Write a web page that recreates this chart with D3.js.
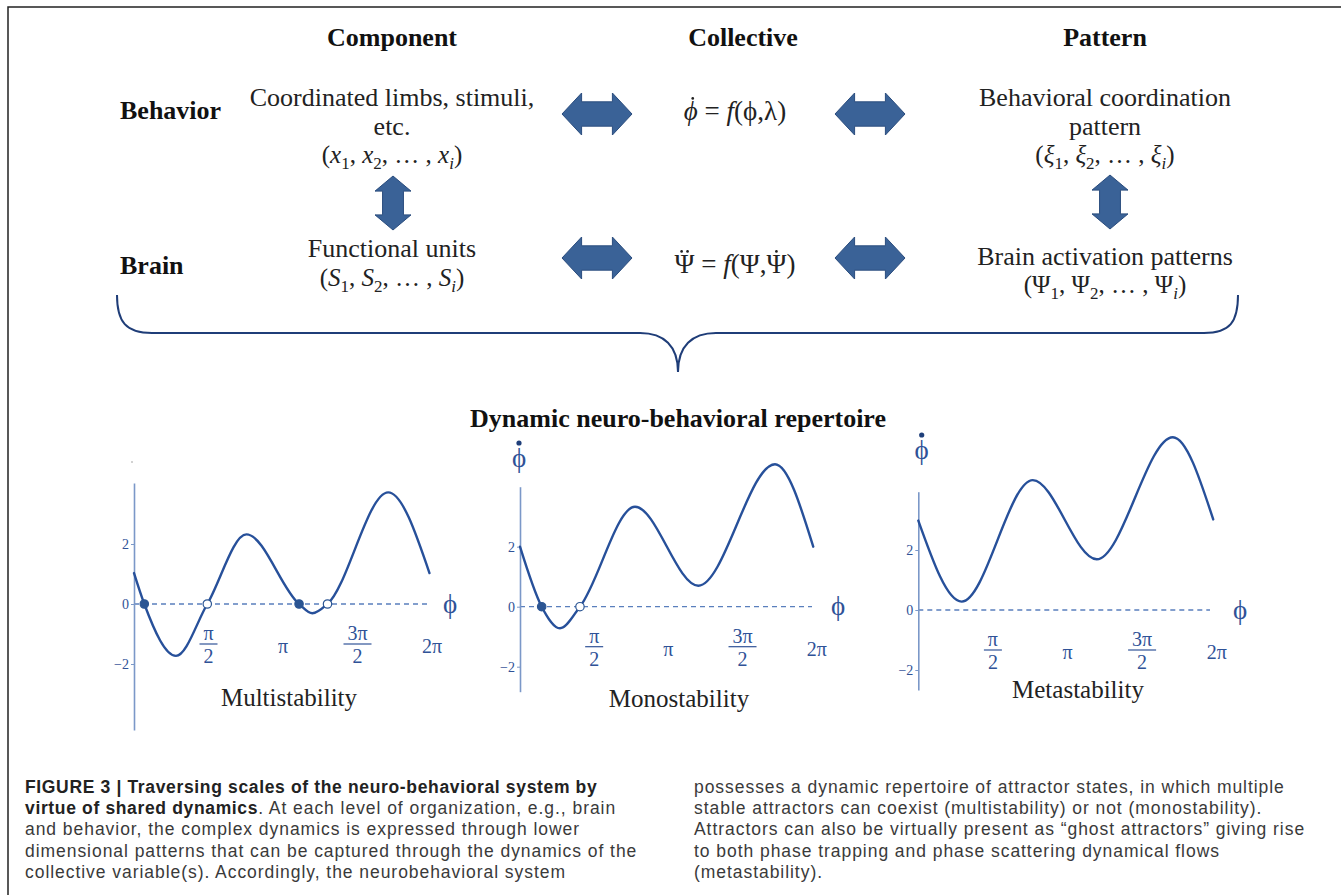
<!DOCTYPE html>
<html lang="en">

<head>
    <meta charset="UTF-8">
    <title>Figure 3</title>
    <style>
        body {
            margin: 0;
            padding: 0;
            background: #fff;
        }

        svg {
            display: block;
        }

        .serif {
            font-family: "Liberation Serif", "Times New Roman", serif;
        }

        .caption {
            font-family: "Liberation Sans", Arial, sans-serif;
            font-size: 17.5px;
            letter-spacing: 0.95px;
            fill: #3a3a3a;
        }
    </style>
</head>

<body>

    <script src="https://d3js.org/d3.v7.min.js"></script>
    <script>
        const width = 1341
        const height = 895

        function setAttr(sel, attrs) {
            Object.keys(attrs).forEach(k => sel.attr(k, attrs[k]))
        }

        // ---- data ----
        const headers = ['Component', 'Collective', 'Pattern']
        const rowLabels = ['Behavior', 'Brain']
        const componentLines = ['Coordinated limbs, stimuli,', 'etc.']
        const componentBrain = ['Functional units']
        const patternLines = ['Behavioral coordination', 'pattern']
        const patternBrain = ['Brain activation patterns']
        const repertoireTitle = 'Dynamic neuro-behavioral repertoire'

        // [phi (rad), phi-dot]: ends, extrema, zero crossings
        const multiPoints = [[0, 1.03], [0.217, 0], [0.885, -1.73], [1.545, 0], [2.37, 2.32], [3.48, 0], [3.76, -0.31],
            [4.08, 0], [5.36, 3.72], [6.23, 1.03]]
        const monoPoints = [[0, 2.0], [0.459, 0], [0.847, -0.72], [1.27, 0], [2.435, 3.33], [3.776, 0.7], [5.40, 4.75], [6.21, 2.0]]
        const metaPoints = [[0, 2.98], [0.913, 0.28], [2.41, 4.33], [3.757, 1.69], [5.36, 5.76], [6.21, 3.02]]

        // fixed points: [phi, stable]
        const multiFixed = [[0.217, true], [1.545, false], [3.48, true], [4.08, false]]
        const monoFixed = [[0.459, true], [1.27, false]]
        const metaFixed = []

        const yTicks = [-2, 0, 2]
        const xTicks = [
            { v: Math.PI / 2, num: 'π', den: '2' },
            { v: Math.PI, label: 'π' },
            { v: 3 * Math.PI / 2, num: '3π', den: '2' },
            { v: 2 * Math.PI, label: '2π' }
        ]

        const captionLeft = [
            [['FIGURE 3 | Traversing scales of the neuro-behavioral system by', true]],
            [['virtue of shared dynamics', true], ['. At each level of organization, e.g., brain', false]],
            [['and behavior, the complex dynamics is expressed through lower', false]],
            [['dimensional patterns that can be captured through the dynamics of the', false]],
            [['collective variable(s). Accordingly, the neurobehavioral system', false]]
        ]
        const captionRight = [
            'possesses a dynamic repertoire of attractor states, in which multiple',
            'stable attractors can coexist (multistability) or not (monostability).',
            'Attractors can also be virtually present as \u201cghost attractors\u201d giving rise',
            'to both phase trapping and phase scattering dynamical flows',
            '(metastability).'
        ]

        const curveColor = '#27509a'
        const axisColor = '#7b98c8'
        const tickColor = '#2f5297'
        const arrowFill = '#3a6297'

        const svg = d3.select('body')
            .append('svg')
            .call(setAttr, { width, height })

        // frame
        svg.append('path')
            .call(setAttr, { d: `M8,${height} L8,7 L${width},7`, fill: 'none', stroke: '#222', 'stroke-width': 1.5 })

        // headers
        const headerX = [392, 743, 1105]
        svg.selectAll('.header')
            .data(headers)
            .join('text')
            .attr('class', 'header serif')
            .call(setAttr, { x: (d, i) => headerX[i], y: 46, 'text-anchor': 'middle', 'font-size': 26, 'font-weight': 'bold', fill: '#111' })
            .text(d => d)

        svg.selectAll('.rowlabel')
            .data(rowLabels)
            .join('text')
            .attr('class', 'rowlabel serif')
            .call(setAttr, { x: 120, y: (d, i) => [119, 274][i], 'font-size': 26, 'font-weight': 'bold', fill: '#111' })
            .text(d => d)

        // plain multi-line text
        function lines(arr, cx, y0, dy) {
            svg.append('g')
                .selectAll('text')
                .data(arr)
                .join('text')
                .attr('class', 'serif')
                .call(setAttr, { x: cx, y: (d, i) => y0 + i * dy, 'text-anchor': 'middle', 'font-size': 26, fill: '#222' })
                .text(d => d)
        }

        lines(componentLines, 392, 106, 29)
        lines(componentBrain, 392, 257, 29)
        lines(patternLines, 1105, 106, 29)
        lines(patternBrain, 1105, 265, 29)

        // math text: segments [text, style]
        // style letters: i italic, s subscript, d one dot above, D two dots above
        function mathText(cx, y, segs, size) {
            const t = svg.append('text')
                .attr('class', 'serif')
                .call(setAttr, { x: cx, y, 'text-anchor': 'middle', 'font-size': size, fill: '#222' })
            let shifted = false
            const dotted = []
            segs.forEach(([s, st]) => {
                const sub = st.includes('s')
                const ts = t.append('tspan').text(s)
                if (st.includes('i')) ts.attr('font-style', 'italic')
                if (sub && !shifted) { ts.attr('dy', size * 0.22); shifted = true }
                if (!sub && shifted) { ts.attr('dy', -size * 0.22); shifted = false }
                if (sub) ts.attr('font-size', size * 0.68)
                if (st.includes('d') || st.includes('D')) dotted.push([ts, st])
            })
            // accent dots placed over the glyph
            dotted.forEach(([ts, st]) => {
                const box = ts.node().getExtentOfChar(0)
                const cxg = box.x + box.width / 2 + (st.includes('i') ? size * 0.07 : 0)
                const cyg = y - size * 0.80
                const offs = st.includes('D') ? [-size * 0.11, size * 0.11] : [0]
                offs.forEach(o => {
                    svg.append('circle')
                        .call(setAttr, { cx: cxg + o, cy: cyg, r: size * 0.05, fill: '#222' })
                })
            })
            return t
        }

        function tuple(sym, symStyle) {
            return [['(', ''], [sym, symStyle], ['1', 's'], [', ', ''], [sym, symStyle], ['2', 's'], [', … , ', ''],
                [sym, symStyle], ['i', 'si'], [')', '']]
        }

        mathText(392, 163, tuple('x', 'i'), 25)
        mathText(392, 286, tuple('S', 'i'), 25)
        mathText(1105, 163, tuple('ξ', 'i'), 25)
        mathText(1105, 293, tuple('Ψ', ''), 25)

        mathText(735, 120, [['ϕ', 'id'], [' = ', ''], ['f', 'i'], ['(ϕ,λ)', '']], 27)
        mathText(735, 273, [['Ψ', 'D'], [' = ', ''], ['f', 'i'], ['(Ψ,', ''], ['Ψ', 'd'], [')', '']], 27)

        // block arrows
        function dblArrow(cx, cy, len, thick, vertical) {
            const hl = len * 0.28
            const sh = thick * 0.29
            const a = len / 2
            const b = thick / 2
            const pts = [[-a, 0], [-a + hl, -b], [-a + hl, -sh], [a - hl, -sh], [a - hl, -b], [a, 0],
                [a - hl, b], [a - hl, sh], [-a + hl, sh], [-a + hl, b]]
            svg.append('path')
                .call(setAttr, {
                    d: 'M' + pts.map(p => p.join(',')).join('L') + 'Z',
                    transform: `translate(${cx},${cy})` + (vertical ? ' rotate(90)' : ''),
                    fill: arrowFill,
                    stroke: '#2b4d7e',
                    'stroke-width': 1
                })
        }

        dblArrow(597, 114, 70, 42, false)
        dblArrow(597, 258, 70, 42, false)
        dblArrow(870, 114, 70, 42, false)
        dblArrow(870, 258, 70, 42, false)
        dblArrow(393, 203, 54, 36, true)
        dblArrow(1110, 202, 54, 36, true)

        // brace
        svg.append('path')
            .call(setAttr, {
                d: 'M117,295 C117,322 126,333 152,333 L640,333 C664,333 678,346 678,372 C678,346 692,333 716,333 L1204,333 C1230,333 1238,322 1238,295',
                fill: 'none',
                stroke: '#1f3d78',
                'stroke-width': 2
            })

        svg.append('text')
            .attr('class', 'serif')
            .call(setAttr, { x: 678, y: 427, 'text-anchor': 'middle', 'font-size': 26, 'font-weight': 'bold', fill: '#111' })
            .text(repertoireTitle)

        // ---- panels ----
        const panels = [
            { pts: multiPoints, fixed: multiFixed, x0: 134, x1: 432, yZero: 604, top: 483, bottom: 730, dashEnd: 428,
              phi: [450, 613], dotLabel: false, title: 'Multistability', tx: 289, ty: 706 },
            { pts: monoPoints, fixed: monoFixed, x0: 520, x1: 816.7, yZero: 606.7, top: 486.7, bottom: 691.7, dashEnd: 812,
              phi: [838, 615], dotLabel: [519, 467], title: 'Monostability', tx: 679, ty: 707 },
            { pts: metaPoints, fixed: metaFixed, x0: 918.3, x1: 1216.7, yZero: 610, top: 491.7, bottom: 690, dashEnd: 1210,
              phi: [1240, 619], dotLabel: [921.7, 459], title: 'Metastability', tx: 1078, ty: 698 }
        ]

        panels.forEach(p => {
            const g = svg.append('g')

            const x = d3.scaleLinear().domain([0, 2 * Math.PI]).range([p.x0, p.x1])
            const unit = d3.scaleLinear().domain([0, 2]).range([p.yZero, p.yZero - 60])
            const y = d3.scaleLinear()
                .domain([unit.invert(p.bottom), unit.invert(p.top)])
                .range([p.bottom, p.top])

            // zero line
            g.append('line')
                .call(setAttr, {
                    x1: x(0), x2: p.dashEnd, y1: y(0), y2: y(0),
                    stroke: '#5a7fbd', 'stroke-width': 1.3, 'stroke-dasharray': '5,4'
                })

            // y axis
            const yAxis = d3.axisLeft(y)
                .tickValues(yTicks)
                .tickSize(3)
                .tickSizeOuter(0)
                .tickPadding(2)
                .tickFormat(d => d < 0 ? '\u2212' + Math.abs(d) : d)

            const ax = g.append('g')
                .attr('transform', `translate(${x(0)},0)`)
                .call(yAxis)
            ax.select('.domain').attr('stroke', axisColor).attr('stroke-width', 1.6)
            ax.selectAll('.tick line').attr('stroke', axisColor)
            ax.selectAll('.tick text')
                .attr('fill', tickColor)
                .attr('font-family', '"Liberation Serif", serif')
                .attr('font-size', 14)

            // x tick labels (fractions of pi)
            const xt = g.selectAll('.xt')
                .data(xTicks)
                .join('g')
                .attr('transform', d => `translate(${x(d.v)},0)`)
                .attr('class', 'serif')
                .attr('fill', tickColor)
                .attr('font-size', 20)
                .attr('text-anchor', 'middle')

            xt.filter(d => d.label)
                .append('text')
                .attr('y', y(0) + 49)
                .text(d => d.label)
            xt.filter(d => d.num)
                .append('text')
                .attr('y', y(0) + 36)
                .text(d => d.num)
            xt.filter(d => d.num)
                .append('line')
                .call(setAttr, { x1: d => -d.num.length * 5 - 4, x2: d => d.num.length * 5 + 4, y1: y(0) + 40, y2: y(0) + 40, stroke: tickColor, 'stroke-width': 1.2 })
            xt.filter(d => d.num)
                .append('text')
                .attr('y', y(0) + 59)
                .text(d => d.den)

            // phi axis label
            g.append('text')
                .attr('class', 'serif')
                .call(setAttr, { x: p.phi[0], y: p.phi[1], 'text-anchor': 'middle', 'font-size': 27, fill: tickColor })
                .text('ϕ')

            if (p.dotLabel) {
                g.append('text')
                    .attr('class', 'serif')
                    .call(setAttr, { x: p.dotLabel[0], y: p.dotLabel[1], 'text-anchor': 'middle', 'font-size': 27, fill: tickColor })
                    .text('ϕ')
                g.append('circle')
                    .call(setAttr, { cx: p.dotLabel[0], cy: p.dotLabel[1] - 24, r: 2.6, fill: '#1f3f7a' })
            } else {
                g.append('circle')
                    .call(setAttr, { cx: x(0) - 2, cy: 462, r: 0.8, fill: '#999' })
            }

            // curve
            const line = d3.line()
                .x(d => x(d[0]))
                .y(d => y(d[1]))
                .curve(d3.curveMonotoneX)

            g.append('path')
                .datum(p.pts)
                .call(setAttr, { d: line, fill: 'none', stroke: curveColor, 'stroke-width': 2.4, 'stroke-linecap': 'round' })

            // fixed points
            g.selectAll('.fp')
                .data(p.fixed)
                .join('circle')
                .call(setAttr, {
                    cx: d => x(d[0]),
                    cy: y(0),
                    r: 4.2,
                    fill: d => d[1] ? '#2b5593' : '#fff',
                    stroke: '#2b5593',
                    'stroke-width': 1.2
                })

            g.append('text')
                .attr('class', 'serif')
                .call(setAttr, { x: p.tx, y: p.ty, 'text-anchor': 'middle', 'font-size': 25, fill: '#222' })
                .text(p.title)
        })

        // ---- caption ----
        const capL = svg.append('g')
        captionLeft.forEach((segs, i) => {
            const t = capL.append('text')
                .attr('class', 'caption')
                .call(setAttr, { x: 25, y: 793 + i * 21.2 })
            segs.forEach(([s, bold]) => {
                const ts = t.append('tspan').text(s)
                if (bold) ts.attr('font-weight', 'bold').attr('fill', '#222').attr('letter-spacing', 0.65)
            })
        })

        svg.append('g')
            .selectAll('text')
            .data(captionRight)
            .join('text')
            .attr('class', 'caption')
            .call(setAttr, { x: 694, y: (d, i) => 793 + i * 21.2 })
            .text(d => d)
    </script>

</body>

</html>
